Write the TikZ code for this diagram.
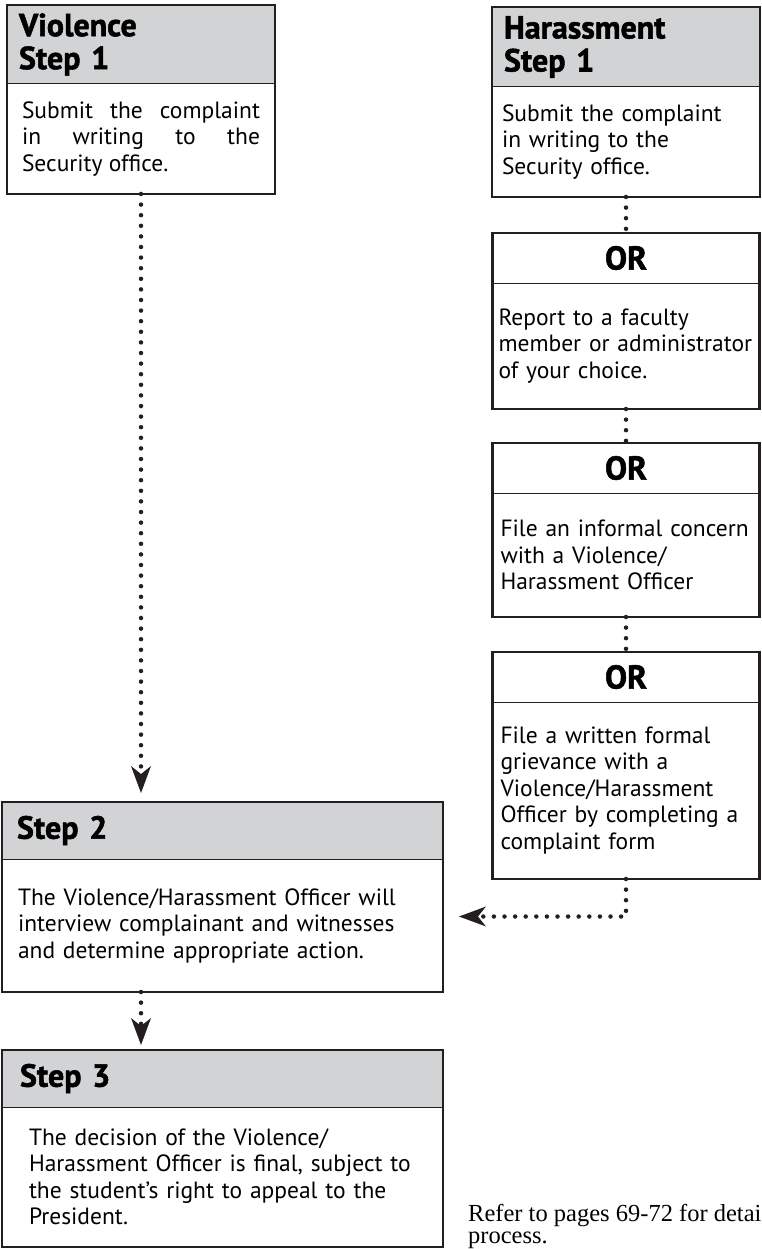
\documentclass[tikz,border=0pt]{standalone}
\usepackage{fontspec}
\setmainfont{PT Sans}
\newfontfamily\headfont{PT Sans}[BoldFeatures={FakeBold=1.6}]
\newfontfamily\notefont{Liberation Serif}
\usetikzlibrary{positioning, arrows.meta}
\definecolor{headgray}{RGB}{209,211,212}
\definecolor{ink}{RGB}{35,31,32}
\hyphenpenalty=10000

\begin{document}
\begin{tikzpicture}[x=1pt,y=-1pt,>={Stealth[length=27pt,width=20pt,inset=8pt,line width=0pt]},
                head/.style={draw=ink,line width=1pt,fill=headgray,anchor=north west,outer sep=0pt,
                inner xsep=12pt,align=left,font=\headfont\bfseries\fontsize{32}{33}\selectfont},
                orhead/.style={draw=ink,line width=1pt,fill=white,outer sep=0pt,
                font=\headfont\bfseries\fontsize{33}{33}\selectfont},
                body/.style={draw=ink,line width=1pt,fill=white,outer sep=0pt,inner xsep=10pt,
                align=left,font=\fontsize{23.5}{26.5}\selectfont},
                frame/.style={draw=ink,line width=2.5pt},
                flow/.style={draw=ink,line width=4.5pt,line cap=round,dash pattern=on 0pt off 10.6pt}]
                \useasboundingbox (0,0) rectangle (762,1249);
                % violence branch
                \node[head,minimum width=268pt,minimum height=79pt,text width=244pt] (vh) at (7,5) {Violence\\Step 1};
                \node[body,below=0pt of vh,minimum width=268pt,minimum height=110pt,text width=238pt,
                align=justify] (vb) {Submit the complaint\linebreak in writing to the\linebreak Security office.};
                % harassment branch
                \node[head,minimum width=268pt,minimum height=80pt,text width=244pt] (hh) at (492,7) {Harassment\\Step 1};
                \node[body,below=0pt of hh,minimum width=268pt,minimum height=110pt,text width=248pt] (hb)
                {Submit the complaint\\in writing to the\\Security office.};
                \node[orhead,below=36pt of hb,minimum width=267pt,minimum height=50pt] (o1h) {OR};
                \node[body,below=0pt of o1h,minimum width=267pt,minimum height=126pt,inner xsep=6pt,text width=255pt] (o1b)
                {Report to a faculty\\\mbox{member or administrator}\\of your choice.};
                \node[orhead,below=34pt of o1b,minimum width=267pt,minimum height=50pt] (o2h) {OR};
                \node[body,below=0pt of o2h,minimum width=267pt,minimum height=124pt,inner xsep=8pt,text width=251pt] (o2b)
                {File an informal concern\\with a Violence/\\Harassment Officer};
                \node[orhead,below=35pt of o2b,minimum width=267pt,minimum height=50pt] (o3h) {OR};
                \node[body,below=0pt of o3h,minimum width=267pt,minimum height=177pt,inner xsep=8pt,text width=251pt] (o3b)
                {File a written formal\\grievance with a\\Violence/Harassment\\Officer by completing a\\complaint form};
                % common steps
                \node[head,minimum width=441pt,minimum height=57pt,inner xsep=15pt,text width=411pt,
                font=\headfont\bfseries\fontsize{32}{33}\selectfont] (s2h) at (2,802) {Step 2};
                \node[body,below=0pt of s2h,minimum width=441pt,minimum height=133pt,inner xsep=16pt,text width=409pt] (s2b)
                {The Violence/Harassment Officer will\\interview complainant and witnesses\\and determine appropriate action.};
                \node[head,below=58pt of s2b,anchor=north,minimum width=441pt,minimum height=57pt,inner xsep=18pt,text width=405pt,
                font=\headfont\bfseries\fontsize{32}{33}\selectfont] (s3h) {Step 3};
                \node[body,below=0pt of s3h,minimum width=441pt,minimum height=140pt,inner xsep=27pt,text width=387pt] (s3b)
                {The decision of the Violence/\\Harassment Officer is final, subject to\\the student's right to appeal to the\\President.};
                \node[anchor=north west,inner sep=0pt,align=left,font=\notefont\fontsize{24.5}{22.5}\selectfont] (note)
                at (468,1204) {Refer to pages 69-72 for detai\\process.};
                % outlines
                \foreach \h/\b in {vh/vb,hh/hb,o1h/o1b,o2h/o2b,o3h/o3b,s2h/s2b,s3h/s3b}
                \draw[frame] (\h.north west) rectangle (\b.south east);
                % connectors
                \draw[flow,->,shorten >=9pt] (vb.south) -- (vb.south |- s2h.north);
                \draw[flow,->,shorten >=5pt] (s2b.south -| vb.south) -- (s3h.north -| vb.south);
                \foreach \a/\b in {hb/o1h,o1b/o2h,o2b/o3h}
                \draw[flow] (\a.south) -- (\b.north);
                \draw[flow,->,shorten >=16pt] (o3b.south) |- ([yshift=9pt]s2b.east);
            \end{tikzpicture}
\end{document}
